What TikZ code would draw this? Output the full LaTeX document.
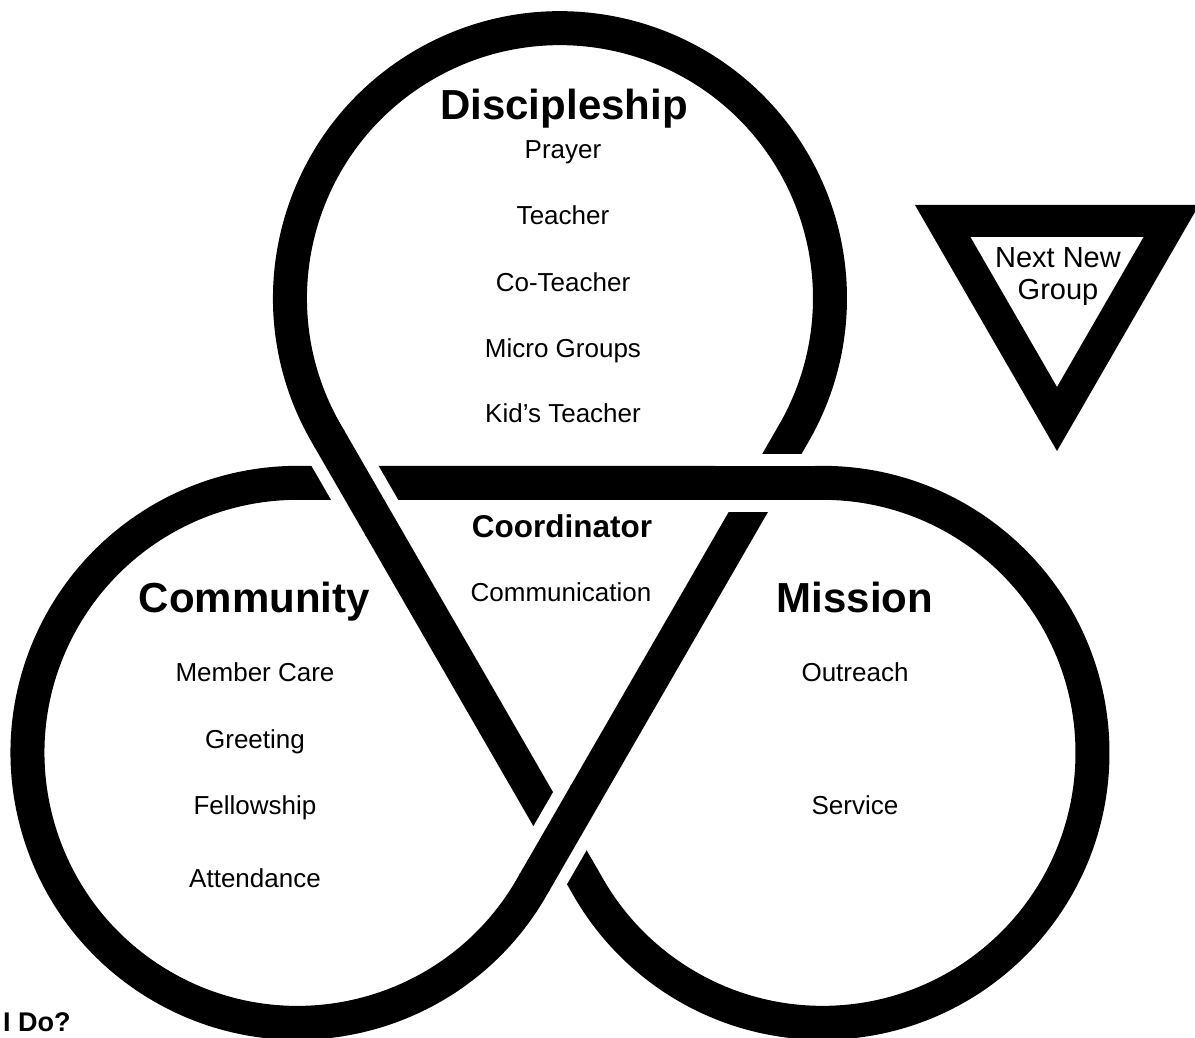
\documentclass[tikz,border=0pt]{standalone}
\usepackage{fontspec}
\setmainfont{Liberation Sans}
\usetikzlibrary{calc}

\begin{document}
\begin{tikzpicture}[x=1pt,y=1pt,
  strand/.style={line width=34pt,line join=round},
  gap/.style={white,line width=58pt},
  over/.style={black,line width=34pt},
  head/.style={inner sep=0pt,anchor=base,font=\fontsize{42}{48}\selectfont\bfseries},
  item/.style={inner sep=0pt,anchor=base,font=\fontsize{26}{30}\selectfont}]
  \fill[white] (-560,-436.7) rectangle (635,601.3);
  \useasboundingbox (-560,-436.7) rectangle (635,601.3);

  % three loops round the middle
  \coordinate (tc) at (90:303.1);
  \coordinate (lc) at (210:303.1);
  \coordinate (rc) at (330:303.1);
  \coordinate (lh) at ($(lc)+(90:270)$);
  \coordinate (rh) at ($(rc)+(90:270)$);
  \coordinate (ta) at ($(tc)+(210:270)$);
  \coordinate (ra) at ($(rc)+(210:270)$);
  \coordinate (tb) at ($(tc)+(330:270)$);
  \coordinate (lb) at ($(lc)+(330:270)$);
  \coordinate (x1) at (intersection of lh--rh and ra--ta);
  \coordinate (x2) at (intersection of lh--rh and tb--lb);
  \coordinate (x3) at (intersection of ra--ta and tb--lb);

  \draw[strand] (lh) -- (rh) arc[start angle=90,end angle=-150,radius=270]
    -- (ta) arc[start angle=210,end angle=-30,radius=270]
    -- (lb) arc[start angle=-30,end angle=-270,radius=270] -- cycle;

  % crossings
  \draw[gap] ($(x1)+(-60:50)$) -- ($(x1)+(120:50)$);
  \draw[over] ($(x1)+(-60:52)$) -- ($(x1)+(120:52)$);
  \draw[gap] ($(x2)+(180:50)$) -- ($(x2)+(0:50)$);
  \draw[over] ($(x2)+(180:52)$) -- ($(x2)+(0:52)$);
  \draw[gap] ($(x3)+(60:50)$) -- ($(x3)+(240:50)$);
  \draw[over] ($(x3)+(60:52)$) -- ($(x3)+(240:52)$);

  % next group
  \coordinate (tri) at (497,314.3);
  \fill[even odd rule] ($(tri)+(150:164)$) -- ($(tri)+(30:164)$) -- ($(tri)+(270:164)$) -- cycle
    ($(tri)+(150:100)$) -- ($(tri)+(30:100)$) -- ($(tri)+(270:100)$) -- cycle;
  \node[item,font=\fontsize{29}{32}\selectfont] (next) at (498,333.3) {Next New};
  \node[item,font=\fontsize{29}{32}\selectfont] (group) at (498,301.3) {Group};

  \node[head] (discipleship) at (4,481.3) {Discipleship};
  \node[item] (prayer) at (3,442.3) {Prayer};
  \node[item] (teacher) at (3,376.3) {Teacher};
  \node[item] (coteacher) at (3,309.3) {Co-Teacher};
  \node[item] (micro) at (3,243.3) {Micro Groups};
  \node[item] (kids) at (3,178.3) {Kid’s Teacher};

  \node[head,font=\fontsize{31.5}{36}\selectfont\bfseries] (coordinator) at (2,63.3) {Coordinator};
  \node[item] (communication) at (1,-0.7) {Communication};

  \node[head] (community) at (-305.5,-11.7) {Community};
  \node[item] (care) at (-305,-80.7) {Member Care};
  \node[item] (greeting) at (-305,-147.7) {Greeting};
  \node[item] (fellowship) at (-305,-213.7) {Fellowship};
  \node[item] (attendance) at (-305,-286.7) {Attendance};

  \node[head] (mission) at (295,-11.7) {Mission};
  \node[item] (outreach) at (295,-80.7) {Outreach};
  \node[item] (service) at (295,-213.7) {Service};

  \node[item,anchor=base west,font=\fontsize{27}{30}\selectfont\bfseries] (ido) at (-557,-430.7) {I Do?};
\end{tikzpicture}
\end{document}
